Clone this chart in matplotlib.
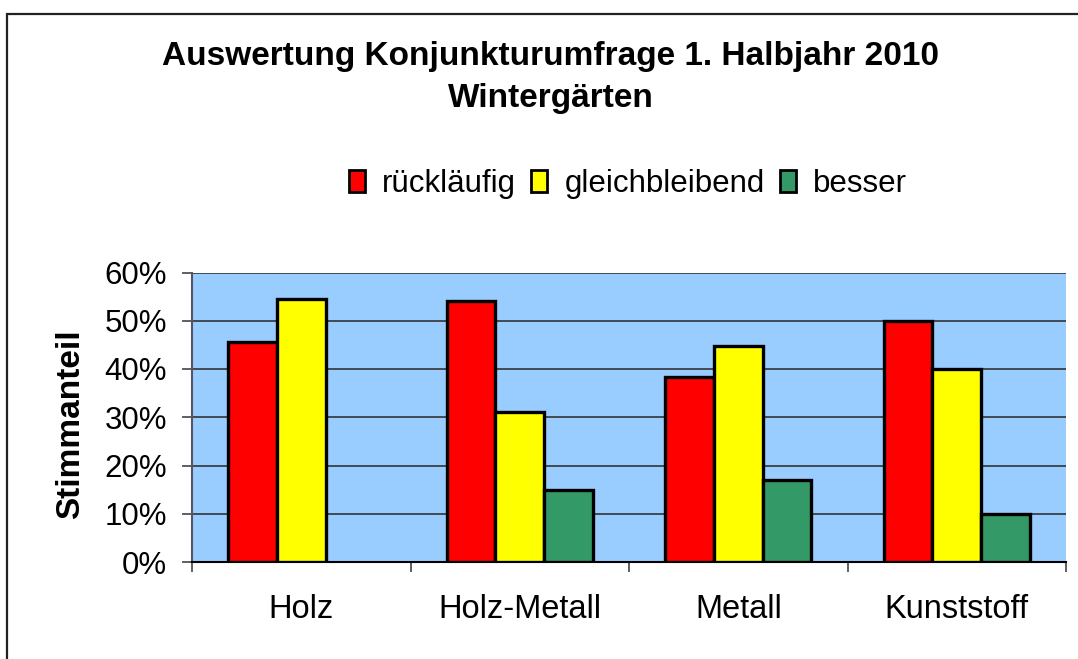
import numpy as np
import matplotlib
matplotlib.use("Agg")
import matplotlib.pyplot as plt
from matplotlib.patches import Rectangle
from matplotlib.ticker import PercentFormatter

plt.rcParams['font.family'] = ['Liberation Sans', 'DejaVu Sans']

categories = ["Holz", "Holz-Metall", "Metall", "Kunststoff"]
series_names = ["rückläufig", "gleichbleibend", "besser"]
ruecklaeufig = [45.5, 54.0, 38.3, 50.0]
gleichbleibend = [54.5, 31.0, 44.8, 40.0]
besser = [np.nan, 15.0, 17.0, 10.0]
yticks = [0, 10, 20, 30, 40, 50, 60]
colors = ["#FF0000", "#FFFF00", "#339966"]

W, H = 1078, 659
fig = plt.figure(figsize=(W / 100, H / 100), dpi=100)

# outer chart frame
fig.add_artist(Rectangle((7 / W, -0.1), 1.2, (H - 14) / H + 0.1, transform=fig.transFigure,
                         fill=False, edgecolor="#222222", linewidth=1.6))

ax = fig.add_axes([192 / W, (H - 562) / H, (1066 - 192) / W, (562 - 272.5) / H])
ax.set_facecolor("#99CCFF")

x = np.arange(len(categories))
w = 1 / 4.5
for i, (vals, col, name) in enumerate(zip([ruecklaeufig, gleichbleibend, besser], colors, series_names)):
    ax.bar(x + (i - 1) * w, vals, width=w, color=col, edgecolor="black", linewidth=2.4,
           label=name, zorder=3)

ax.set_xlim(-0.5, len(categories) - 0.5)
ax.set_ylim(0, 60)
ax.set_yticks(yticks)
ax.yaxis.set_major_formatter(PercentFormatter(decimals=0))
ax.grid(axis="y", color="#333333", linewidth=1.2, zorder=1)
ax.set_axisbelow(True)

for s in ["top", "right"]:
    ax.spines[s].set_visible(False)
ax.spines["left"].set_color("#555566")
ax.spines["left"].set_linewidth(1.5)
ax.spines["bottom"].set_color("black")
ax.spines["bottom"].set_linewidth(1.5)

ax.set_xticks(np.arange(-0.5, len(categories), 1.0))
ax.set_xticklabels([])
ax.set_xticks(x, minor=True)
ax.set_xticklabels(categories, minor=True, fontsize=23.5)
ax.tick_params(axis="x", which="major", direction="out", length=7, width=1.2, color="#444444")
ax.tick_params(axis="x", which="minor", length=0, pad=23)
ax.tick_params(axis="y", direction="out", length=7, width=1.2, color="#444444", labelsize=22.5, pad=11)

ax.set_ylabel("Stimmanteil", fontsize=24, fontweight="bold")
ax.yaxis.set_label_coords((86 - 192) / (1066 - 192), 0.475)

fig.text(551 / W, 1 - 57 / H, "Auswertung Konjunkturumfrage 1. Halbjahr 2010", ha="center", va="center",
         fontsize=24, fontweight="bold")
fig.text(551 / W, 1 - 98 / H, "Wintergärten", ha="center", va="center", fontsize=24, fontweight="bold")

handles = [Rectangle((0, 0), 1, 1, facecolor=c, edgecolor="black", linewidth=2) for c in colors]
fig.legend(handles, series_names, loc="center", bbox_to_anchor=(628 / W, 1 - 184 / H), ncol=3,
           frameon=False, fontsize=22.5, handlelength=0.5, handleheight=0.7, handletextpad=0.55,
           columnspacing=0.5, borderaxespad=0)

fig.savefig("out.png", dpi=100)
